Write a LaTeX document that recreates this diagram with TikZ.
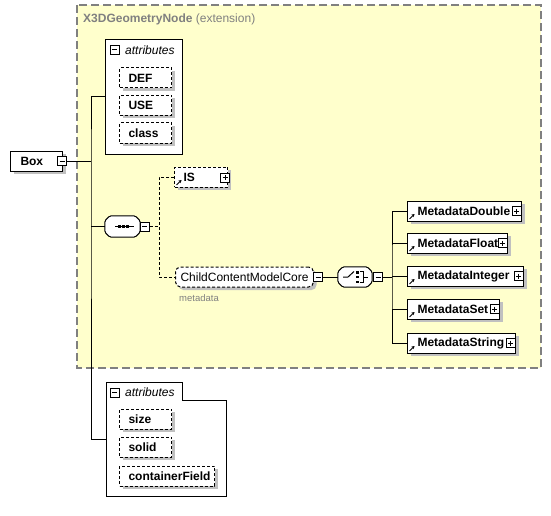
\documentclass[tikz,border=0pt]{standalone}
\usepackage{fontspec}
\setmainfont{Liberation Sans}
\usetikzlibrary{shadows,calc,arrows.meta}
\definecolor{bgyellow}{RGB}{255,255,204}
\definecolor{framegray}{RGB}{128,128,128}
\definecolor{shadowgray}{RGB}{192,192,192}
\definecolor{textgray}{RGB}{128,128,128}
\tikzset{
 shd/.style={drop shadow={shadow xshift=3pt, shadow yshift=-3pt, fill=shadowgray, opacity=1}},
 elem/.style={draw, fill=white, line width=1pt, inner sep=0pt, minimum height=20pt, anchor=west, font=\fontsize{12}{14}\selectfont\bfseries, shd},
 attrbox/.style={elem, dash pattern=on 3pt off 2pt},
 pmbox/.style={draw, fill=white, line width=1pt, minimum size=9pt, inner sep=0pt},
 minusbox/.style={pmbox, path picture={\draw[line width=1pt] ([xshift=2pt]path picture bounding box.west) -- ([xshift=-2pt]path picture bounding box.east);}},
 plusbox/.style={pmbox, path picture={\draw[line width=1pt] ([xshift=2pt]path picture bounding box.west) -- ([xshift=-2pt]path picture bounding box.east) ([yshift=-2pt]path picture bounding box.north) -- ([yshift=2pt]path picture bounding box.south);}},
 conn/.style={line width=1pt},
 dconn/.style={line width=1pt, dash pattern=on 3pt off 2pt},
 hdr/.style={anchor=west, inner sep=0pt, font=\fontsize{12}{14}\selectfont\itshape},
 octhold/.style={rectangle, inner sep=0pt, minimum height=20pt},
}
\newcommand\refmark[1]{\draw[line width=1pt, -{Stealth[length=3pt,width=3.5pt]}] ($(#1.south west)+(2.5,-2.5)$) -- ($(#1.south west)+(7.5,-7.5)$);}
\newcommand\octpath[1]{($(#1.north west)+(5,0)$) -- ($(#1.north east)+(-5,0)$) -- ($(#1.north east)+(0,5)$) -- ($(#1.south east)+(0,-5)$) -- ($(#1.south east)+(-5,0)$) -- ($(#1.south west)+(5,0)$) -- ($(#1.south west)+(0,-5)$) -- ($(#1.north west)+(0,5)$) -- cycle}
\begin{document}
\begin{tikzpicture}[x=1pt,y=-1pt]
\useasboundingbox (0,0) rectangle (551,516);
% extension frame
\draw[fill=bgyellow, draw=framegray, line width=1.5pt, dash pattern=on 8pt off 4pt] (77,5) rectangle (541,368);
\node[anchor=west, inner sep=0pt, text=textgray, font=\fontsize{12}{14}\selectfont] (title) at (83,19) {\textbf{X3DGeometryNode} (extension)};

% Box
\node[elem, minimum width=52pt] (box) at (10,161) {\makebox[52pt][l]{\hspace{10pt}Box}};
\node[minusbox] (boxm) at (62,161) {};
\coordinate (trunk) at (91,161);

% top attributes
\node[draw, fill=white, line width=1pt, minimum width=77pt, minimum height=115pt, inner sep=0pt, anchor=north west] (attrA) at (105,39) {};
\node[minusbox] (attrAm) at (114.5,50) {};
\node[hdr] (attrAt) at (125,50) {attributes};
\node[attrbox, minimum width=52pt] (def) at (119,78) {\makebox[52pt][l]{\hspace{9pt}DEF}};
\node[attrbox, minimum width=52pt] (use) at (119,105.5) {\makebox[52pt][l]{\hspace{9pt}USE}};
\node[attrbox, minimum width=52pt] (cls) at (119,133) {\makebox[52pt][l]{\hspace{9pt}class}};

% bottom attributes (tab shape)
\node[rectangle, inner sep=0pt, minimum width=120pt, minimum height=114pt, anchor=north west] (attrB) at (106,382) {};
\draw[fill=white, line width=1pt] (attrB.north west) -- (182,382) -- (182,400) -- (attrB.north east |- 0,400) -- (attrB.south east) -- (attrB.south west) -- cycle;
\node[minusbox] (attrBm) at (114.5,392.5) {};
\node[hdr] (attrBt) at (125,392) {attributes};
\node[attrbox, minimum width=52pt] (size) at (119,419) {\makebox[52pt][l]{\hspace{9pt}size}};
\node[attrbox, minimum width=52pt] (solid) at (119,447) {\makebox[52pt][l]{\hspace{9pt}solid}};
\node[attrbox, minimum width=95pt] (cf) at (119,476) {\makebox[95pt][l]{\hspace{9pt}containerField}};

% sequence
\node[octhold, minimum width=35pt, minimum height=21pt] (seq) at (122.5,226.5) {};
\fill[shadowgray, shift={(3,3)}, rounded corners=1.5pt] \octpath{seq};
\draw[fill=white, line width=1pt, rounded corners=1.5pt] \octpath{seq};
\draw[line width=1pt] (115,226.5) -- (134,226.5);
\fill (117.5,225) rectangle (120.5,228);
\fill (121.5,225) rectangle (124.5,228);
\fill (125.5,225) rectangle (128.5,228);
\node[minusbox] (seqm) at (144.5,226.5) {};
\coordinate (sj) at (159,226.5);

% IS
\node[attrbox, minimum width=53pt] (is) at (174,177) {\makebox[53pt][l]{\hspace{9pt}IS}};
\node[plusbox] (isp) at (225,177.5) {};
\refmark{is}

% ChildContentModelCore
\node[elem, dash pattern=on 3pt off 2pt, rounded corners=5pt, minimum width=138pt, font=\fontsize{12}{14}\selectfont] (ccmc) at (175,277) {\makebox[138pt][l]{\hspace{5pt}ChildContentModelCore}};
\node[minusbox] (ccmcm) at (318,277) {};
\node[anchor=west, inner sep=0pt, text=textgray, font=\fontsize{9.5}{11}\selectfont] (mdlabel) at (179,298) {metadata};

% choice
\node[octhold, minimum width=34pt] (choice) at (355,277) {};
\fill[shadowgray, shift={(3,3)}, rounded corners=1.5pt] \octpath{choice};
\draw[fill=white, line width=1pt, rounded corners=1.5pt] \octpath{choice};
\draw[line width=1pt] (343,277) -- (348,277) -- (354,271.5);
\fill (356,271) rectangle (358.5,273.5);
\fill (356,275.8) rectangle (358.5,278.3);
\fill (356,280.5) rectangle (358.5,283);
\draw[line width=1pt] (360,271.5) -- (363.5,271.5) -- (363.5,282.5) -- (360,282.5) (363.5,277) -- (368,277);
\node[minusbox] (choicem) at (378,277) {};
\coordinate (cj) at (392,277);

% Metadata elements
\node[elem, minimum width=114pt] (md1) at (407,211) {\makebox[114pt][l]{\hspace{10pt}MetadataDouble}};
\node[plusbox] (md1p) at (516.5,211) {};
\refmark{md1}
\node[elem, minimum width=100pt] (md2) at (407,243) {\makebox[100pt][l]{\hspace{10pt}MetadataFloat}};
\node[plusbox] (md2p) at (502.5,243) {};
\refmark{md2}
\node[elem, minimum width=116pt] (md3) at (407,276) {\makebox[116pt][l]{\hspace{10pt}MetadataInteger}};
\node[plusbox] (md3p) at (518.5,276) {};
\refmark{md3}
\node[elem, minimum width=92pt] (md4) at (407,309) {\makebox[92pt][l]{\hspace{10pt}MetadataSet}};
\node[plusbox] (md4p) at (494.5,309) {};
\refmark{md4}
\node[elem, minimum width=108pt] (md5) at (407,343) {\makebox[108pt][l]{\hspace{10pt}MetadataString}};
\node[plusbox] (md5p) at (510.5,343) {};
\refmark{md5}

% connectors
\draw[conn] (boxm.east) -- (trunk);
\draw[conn] (attrA.west) -| (trunk) |- (attrB.west);
\draw[conn] (trunk |- seq.west) -- (seq.west);
\draw[dconn] (seqm.east) -- (sj);
\draw[dconn] (is.west) -| (sj) |- (ccmc.west);
\draw[conn] (ccmcm.east) -- (choice.west);
\draw[conn] (choicem.east) -- (cj);
\draw[conn] (md1.west) -| (cj) |- (md5.west);
\draw[conn] (cj |- md2.west) -- (md2.west);
\draw[conn] (cj |- md3.west) -- (md3.west);
\draw[conn] (cj |- md4.west) -- (md4.west);
\end{tikzpicture}
\end{document}
